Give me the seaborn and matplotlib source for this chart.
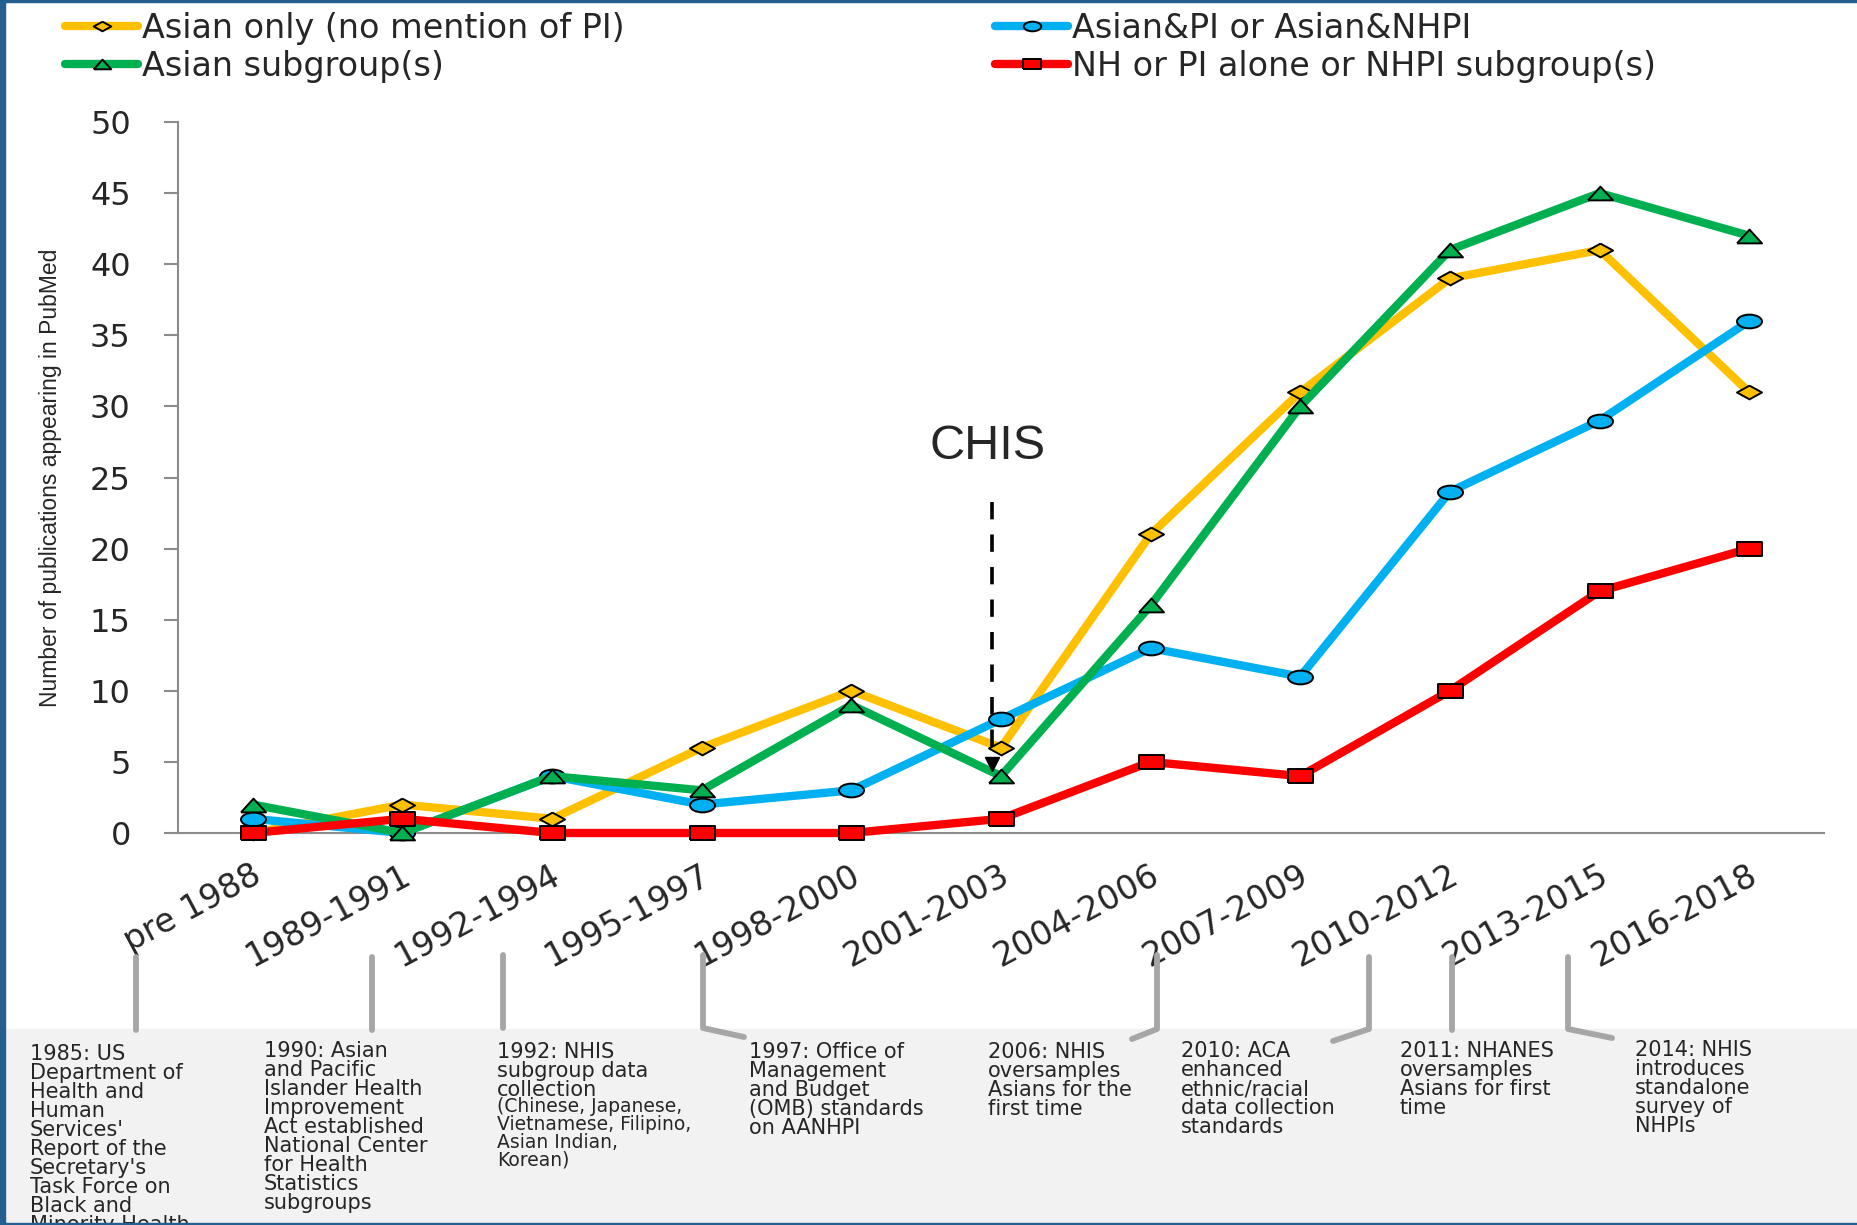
import numpy as np
import pandas as pd
import matplotlib
matplotlib.use("Agg")
import matplotlib.pyplot as plt
import seaborn as sns
from matplotlib import font_manager
from matplotlib.path import Path
from matplotlib.transforms import Affine2D, ScaledTranslation
from matplotlib.lines import Line2D
from matplotlib.patches import Rectangle

### Data
periods = ["pre 1988", "1989-1991", "1992-1994", "1995-1997", "1998-2000", "2001-2003",
           "2004-2006", "2007-2009", "2010-2012", "2013-2015", "2016-2018"]
asian_only = [0, 2, 1, 6, 10, 6, 21, 31, 39, 41, 31]
asian_pi = [1, 0, 4, 2, 3, 8, 13, 11, 24, 29, 36]
asian_sub = [2, 0, 4, 3, 9, 4, 16, 30, 41, 45, 42]
nh_pi = [0, 1, 0, 0, 0, 1, 5, 4, 10, 17, 20]
series_names = ["Asian only (no mention of PI)", "Asian&PI or Asian&NHPI",
                "Asian subgroup(s)", "NH or PI alone or NHPI subgroup(s)"]
y_label = "Number of publications appearing in PubMed"
chis_label = "CHIS"
chis_period = "2001-2003"

milestones = [
    ("1985: US\nDepartment of\nHealth and\nHuman\nServices'\nReport of the\nSecretary's\nTask Force on\nBlack and\nMinority Health", ""),
    ("1990: Asian\nand Pacific\nIslander Health\nImprovement\nAct established\nNational Center\nfor Health\nStatistics\nsubgroups", ""),
    ("1992: NHIS\nsubgroup data\ncollection", "(Chinese, Japanese,\nVietnamese, Filipino,\nAsian Indian,\nKorean)"),
    ("1997: Office of\nManagement\nand Budget\n(OMB) standards\non AANHPI", ""),
    ("2006: NHIS\noversamples\nAsians for the\nfirst time", ""),
    ("2010: ACA\nenhanced\nethnic/racial\ndata collection\nstandards", ""),
    ("2011: NHANES\noversamples\nAsians for first\ntime", ""),
    ("2014: NHIS\nintroduces\nstandalone\nsurvey of\nNHPIs", ""),
]

### layout (pixels of the 1857x1225 picture)
W, H = 1857, 1225
def fx(px):
    return px / W
def fy(py):
    return 1 - py / H

text_pos = [(30, 1044), (264, 1041), (497, 1042), (749, 1042), (988, 1042), (1181, 1041), (1400, 1041), (1635, 1040)]
note_top = 1097
connectors = [
    [(136, 957), (136, 1030)],
    [(372, 957), (372, 1030)],
    [(503, 955), (503, 1028)],
    [(703, 955), (703, 1028), (744, 1037)],
    [(1157, 955), (1157, 1029), (1132, 1039)],
    [(1369, 957), (1369, 1029), (1333, 1041)],
    [(1452, 957), (1452, 1030)],
    [(1568, 957), (1568, 1029), (1612, 1038)],
]

colors = ["#FFC000", "#00B0F0", "#00B050", "#FF0000"]
# flattened markers like in the (stretched) original
m_diamond = [(0, 0.55), (1, 0), (0, -0.55), (-1, 0), (0, 0.55)]
m_circle = Path.unit_circle().transformed(Affine2D().scale(1, 0.55))
m_tri = [(-1, -0.55), (1, -0.55), (0, 0.55), (-1, -0.55)]
m_square = [(-1, -0.55), (1, -0.55), (1, 0.55), (-1, 0.55), (-1, -0.55)]
markers = [m_diamond, m_circle, m_tri, m_square]
axis_gray = "#8C8C8C"

sns.set_style("white")
plt.rcParams["font.family"] = ["DejaVu Sans"]

installed = {f.name for f in font_manager.fontManager.ttflist}
if "Liberation Sans Narrow" in installed:
    ylab_font, ylab_size = "Liberation Sans Narrow", 20.5
else:
    ylab_font, ylab_size = "Liberation Sans", 16.5

df = pd.DataFrame({"period": periods, "pos": np.arange(len(periods)),
                   series_names[0]: asian_only, series_names[1]: asian_pi,
                   series_names[2]: asian_sub, series_names[3]: nh_pi})
long_df = df.melt(id_vars=["period", "pos"], var_name="series", value_name="count")

fig = plt.figure(figsize=(W / 100, H / 100), dpi=100)
ax = fig.add_axes([fx(178), fy(833), fx(1824) - fx(178), fy(122) - fy(833)])

for i, name in enumerate(series_names):
    sub = long_df[long_df["series"] == name]
    sns.lineplot(data=sub, x="pos", y="count", color=colors[i], marker=markers[i],
                 markersize=18, markeredgecolor="black", markeredgewidth=1.4,
                 linewidth=6, label=name, ax=ax, zorder=3 + i, clip_on=False, sort=False)

if ax.get_legend() is not None:
    ax.get_legend().remove()

ax.set_xlim(-0.5, len(periods) - 0.5)
ax.set_ylim(0, 50)
ax.set_yticks(range(0, 51, 5))
ax.set_xticks(range(len(periods)))
ax.set_xticklabels(periods, rotation=28, ha="right", va="center", rotation_mode="anchor", fontsize=24)
ax.set_xticks(np.arange(-0.5, len(periods), 1), minor=True)
ax.tick_params(axis="x", which="major", length=0, pad=29)
ax.tick_params(axis="x", which="minor", length=7, width=1.5, color=axis_gray, direction="out")
ax.tick_params(axis="y", length=10, width=1.5, color=axis_gray, pad=24, labelsize=23, direction="out", left=True)
for lbl in ax.get_xticklabels():
    lbl.set_transform(lbl.get_transform() + ScaledTranslation(6 / 100, 0, fig.dpi_scale_trans))
ax.set_xlabel("")
ax.set_ylabel(y_label, fontsize=ylab_size, family=[ylab_font, "DejaVu Sans"])
ax.yaxis.set_label_coords(-0.0705, 0.5)
for s in ["top", "right"]:
    ax.spines[s].set_visible(False)
for s in ["left", "bottom"]:
    ax.spines[s].set_color(axis_gray)
    ax.spines[s].set_linewidth(1.5)

### CHIS marker
cx = periods.index(chis_period) - 0.06
ax.plot([cx, cx], [23.3, 5.3], color="black", lw=2.6, dashes=(4.8, 4.2), zorder=8)
ax.plot([cx], [4.85], marker="v", ms=9.5, color="black", zorder=8, clip_on=False)
ax.text(periods.index(chis_period) - 0.09, 27.2, chis_label, ha="center", va="center",
        fontsize=35, family=["Liberation Sans", "DejaVu Sans"])

### legend, two columns
handles, labels = ax.get_legend_handles_labels()
hd = dict(zip(labels, handles))
for names, x0 in [([series_names[0], series_names[2]], 65), ([series_names[1], series_names[3]], 995)]:
    fig.legend([hd[n] for n in names], names, loc="upper left", bbox_to_anchor=(fx(x0), fy(12)),
               frameon=False, fontsize=24, handlelength=2.2, handletextpad=0.12,
               labelspacing=0.15, borderpad=0, borderaxespad=0, markerscale=0.7)

### milestone panel
fig.add_artist(Rectangle((fx(5), 0), 1 - fx(5), fy(1029), transform=fig.transFigure,
                         color="#F2F2F2", zorder=0))
for pts in connectors:
    xs = [fx(p[0]) for p in pts]
    ys = [fy(p[1]) for p in pts]
    fig.add_artist(Line2D(xs, ys, color="#A6A6A6", lw=4.2, transform=fig.transFigure, zorder=1))
for (main, note), (x0, y0) in zip(milestones, text_pos):
    fig.text(fx(x0), fy(y0), main, ha="left", va="top", fontsize=15, linespacing=0.94)
    if note:
        fig.text(fx(x0), fy(note_top), note, ha="left", va="top", fontsize=13.5, linespacing=0.92)

### dark blue frame
frame_blue = "#255E91"
fig.add_artist(Rectangle((0, 0), fx(5), 1, transform=fig.transFigure, color=frame_blue, zorder=10))
fig.add_artist(Rectangle((0, 0), 1, 2.5 / H, transform=fig.transFigure, color=frame_blue, zorder=10))
fig.add_artist(Rectangle((0, 1 - 1.5 / H), 1, 1.5 / H, transform=fig.transFigure, color=frame_blue, zorder=10))

fig.savefig("out.png", dpi=100)
